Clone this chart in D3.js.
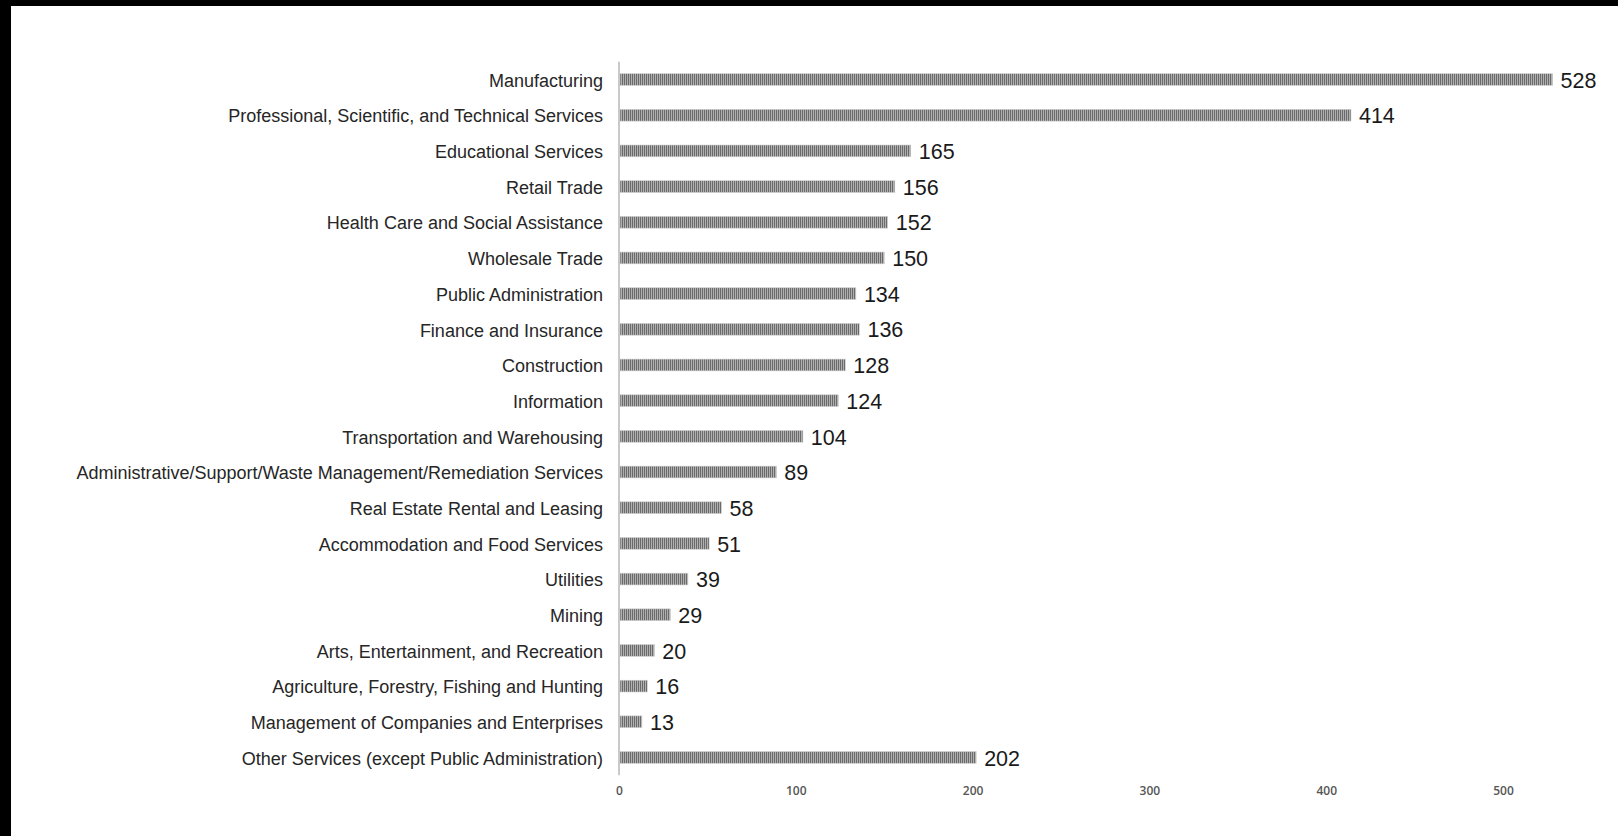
<!DOCTYPE html>
<html>
<head>
<meta charset="utf-8">
<script src="https://cdn.jsdelivr.net/npm/d3@7"></script>
<style>
  html, body { margin: 0; padding: 0; background: #fff; }
  svg { display: block; }
</style>
</head>
<body>
<svg id="chart" width="1618" height="836"></svg>
<script>
const industries = [
    "Manufacturing",
    "Professional, Scientific, and Technical Services",
    "Educational Services",
    "Retail Trade",
    "Health Care and Social Assistance",
    "Wholesale Trade",
    "Public Administration",
    "Finance and Insurance",
    "Construction",
    "Information",
    "Transportation and Warehousing",
    "Administrative/Support/Waste Management/Remediation Services",
    "Real Estate Rental and Leasing",
    "Accommodation and Food Services",
    "Utilities",
    "Mining",
    "Arts, Entertainment, and Recreation",
    "Agriculture, Forestry, Fishing and Hunting",
    "Management of Companies and Enterprises",
    "Other Services (except Public Administration)"
];
const counts = [528, 414, 165, 156, 152, 150, 134, 136, 128, 124, 104, 89, 58, 51, 39, 29, 20, 16, 13, 202];
const tickValues = [0, 100, 200, 300, 400, 500];

function drawChart() {
    const svg = d3.select("#chart");
    svg.selectAll("*").remove();

    const rows = industries.map((name, i) => ({ name: name, value: counts[i] }));

    // striped fill like the original bars
    const pat = svg.append("defs").append("pattern")
        .attr("id", "stripes")
        .attr("patternUnits", "userSpaceOnUse")
        .attr("width", 2)
        .attr("height", 4);
    pat.append("rect").attr("width", 2).attr("height", 4).attr("fill", "#b0b0b0");
    pat.append("rect").attr("width", 1).attr("height", 4).attr("fill", "#6a6a6a");

    // black frame on top and left edges
    svg.append("rect").attr("x", 0).attr("y", 0).attr("width", 1618).attr("height", 6).attr("fill", "#000");
    svg.append("rect").attr("x", 0).attr("y", 0).attr("width", 11).attr("height", 836).attr("fill", "#000");

    const x = d3.scaleLinear().domain([0, 550]).range([619, 619 + 550 * 1.768]);
    const y = d3.scaleBand().domain(industries).range([61.7, 775.3]).paddingInner(0.67).paddingOuter(0.335);

    // bars
    svg.append("g")
        .selectAll("rect")
        .data(rows)
        .enter().append("rect")
        .attr("x", x(0) + 1)
        .attr("y", d => y(d.name))
        .attr("width", d => x(d.value) - x(0) - 1)
        .attr("height", y.bandwidth())
        .attr("fill", "url(#stripes)")
        .attr("stroke", "#cfcfcf")
        .attr("stroke-width", 0.6);

    // value labels
    svg.append("g")
        .selectAll("text")
        .data(rows)
        .enter().append("text")
        .attr("x", d => x(d.value) + 8)
        .attr("y", d => y(d.name) + y.bandwidth() / 2)
        .attr("dy", "0.38em")
        .attr("font-family", "Liberation Sans, Arial, sans-serif")
        .attr("font-size", 21.5)
        .attr("fill", "#1a1a1a")
        .text(d => d.value);

    // category axis
    const yAxis = svg.append("g")
        .attr("transform", `translate(${x(0)},0)`)
        .call(d3.axisLeft(y).tickSize(0).tickPadding(16));
    yAxis.select(".domain")
        .attr("d", `M0,${y.range()[0]}V${y.range()[1]}`)
        .attr("stroke", "#c9c9c9")
        .attr("stroke-width", 2);
    yAxis.selectAll("text")
        .attr("dy", "0.4em")
        .attr("font-family", "Liberation Sans, Arial, sans-serif")
        .attr("font-size", 18)
        .attr("fill", "#262626");

    // value axis (labels only)
    const xAxis = svg.append("g")
        .attr("transform", "translate(0,786)")
        .call(d3.axisBottom(x).tickValues(tickValues).tickSize(0).tickPadding(0));
    xAxis.select(".domain").remove();
    xAxis.selectAll("text")
        .attr("font-family", "Open Sans, sans-serif")
        .attr("font-size", 12)
        .attr("font-weight", 600)
        .attr("fill", "#555");
}

drawChart();
</script>
</body>
</html>
